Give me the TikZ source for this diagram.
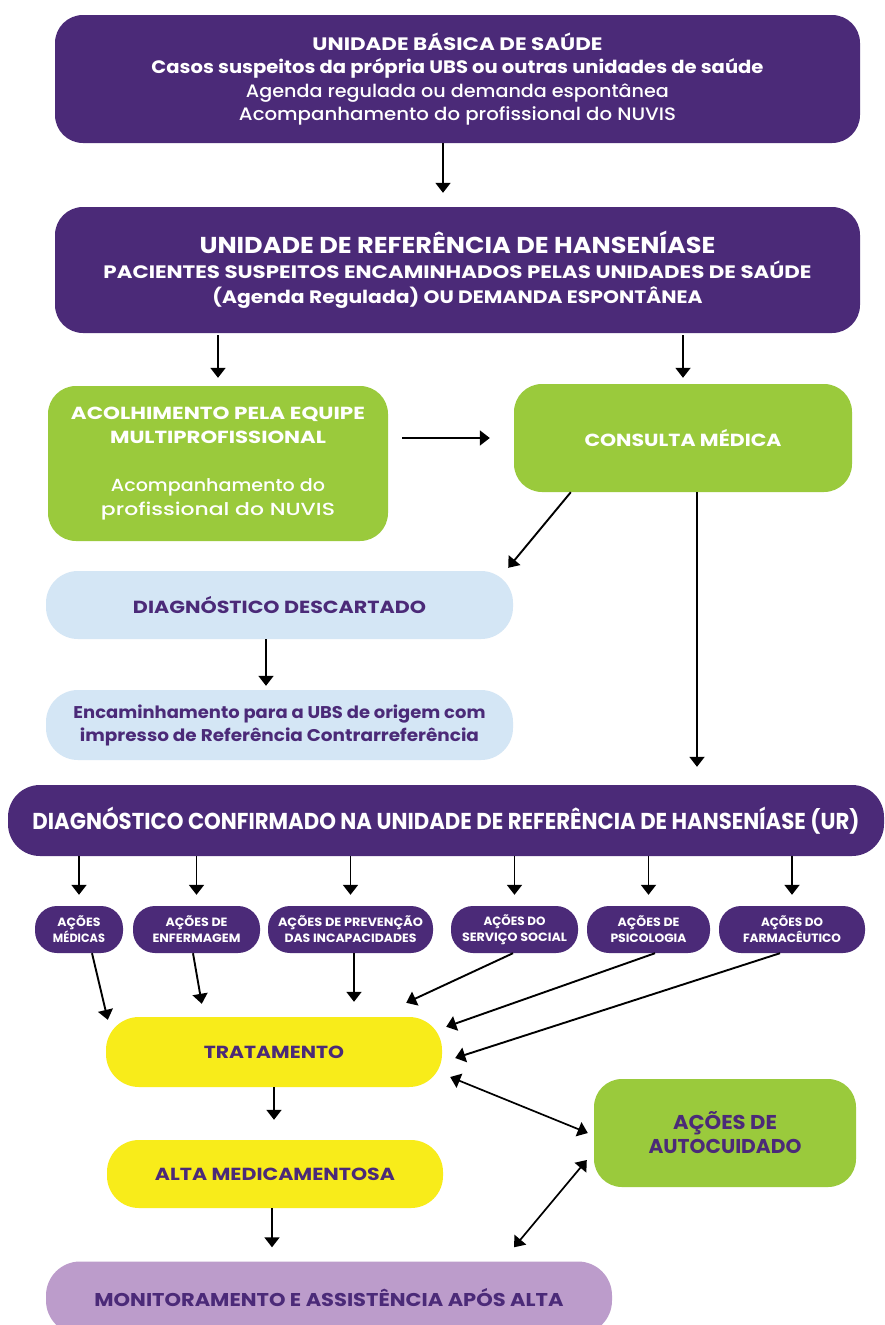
\documentclass[tikz,border=0pt]{standalone}
\usepackage{fontspec}
\usepackage{graphicx}
\setmainfont{Poppins}
\newfontfamily\popmed{Poppins Medium}
\usetikzlibrary{arrows.meta,calc}
\definecolor{dpurple}{RGB}{75,42,120}
\definecolor{lgreen}{RGB}{154,202,60}
\definecolor{lblue}{RGB}{212,230,245}
\definecolor{yel}{RGB}{248,236,26}
\definecolor{lilac}{RGB}{188,156,203}
\newcommand\fitw[2]{\resizebox{#1pt}{\height}{#2}}
\tikzset{
  box/.style={draw=none, rounded corners=28pt, align=center, inner sep=0pt},
  pbox/.style={box, fill=dpurple, text=white},
  gbox/.style={box, fill=lgreen, text=white},
  bbox/.style={box, fill=lblue, text=dpurple},
  ybox/.style={box, fill=yel, text=dpurple},
  sbox/.style={box, fill=dpurple, text=white, rounded corners=22pt, minimum height=47pt,
     font=\bfseries\fontsize{12}{16}\selectfont},
  arr/.style={-{Triangle[length=10pt,width=15pt]}, line width=1.9pt, black},
  darr/.style={{Triangle[length=10pt,width=15pt]}-{Triangle[length=10pt,width=15pt]}, line width=1.7pt, black},
}
\begin{document}
\begin{tikzpicture}[x=1pt,y=-1pt]
\useasboundingbox (0,0) rectangle (884,1325);
\fill[white] (0,0) rectangle (884,1325);

\node[pbox, minimum width=805pt, minimum height=128pt, font=\fontsize{18}{23.5}\selectfont] (ubs) at (457.5,79)
 {\fitw{290}{\bfseries UNIDADE BÁSICA DE SAÚDE}\\
  \fitw{612}{\bfseries Casos suspeitos da própria UBS ou outras unidades de saúde}\\
  \fitw{423}{\popmed Agenda regulada ou demanda espontânea}\\
  \fitw{437}{\popmed Acompanhamento do profissional do NUVIS}};

\node[pbox, minimum width=805pt, minimum height=126pt, font=\bfseries\fontsize{18}{25}\selectfont] (ref) at (457.5,270)
 {\fitw{516}{\fontsize{23}{25}\selectfont UNIDADE DE REFERÊNCIA DE HANSENÍASE}\\
  \fitw{708}{PACIENTES SUSPEITOS ENCAMINHADOS PELAS UNIDADES DE SAÚDE}\\
  \fitw{490}{(Agenda Regulada) OU DEMANDA ESPONTÂNEA}};

\node[gbox, minimum width=340pt, minimum height=155pt, font=\fontsize{17.5}{24}\selectfont] (acol) at (218,463.5)
 {\fitw{294}{\bfseries ACOLHIMENTO PELA EQUIPE}\\
  \fitw{216}{\bfseries MULTIPROFISSIONAL}\\[24pt]
  \fitw{214}{\popmed Acompanhamento do}\\
  \fitw{234}{\popmed profissional do NUVIS}};

\node[gbox, minimum width=338pt, minimum height=108pt, font=\bfseries\fontsize{17.5}{24}\selectfont] (cons) at (683,438)
 {\fitw{197}{CONSULTA MÉDICA}};

\node[bbox, rounded corners=32pt, minimum width=467pt, minimum height=68pt, font=\bfseries\fontsize{17.5}{24}\selectfont] (desc) at (279.5,605)
 {\fitw{293}{DIAGNÓSTICO DESCARTADO}};

\node[bbox, rounded corners=32pt, minimum width=467pt, minimum height=70pt, font=\bfseries\fontsize{17}{23}\selectfont] (enc) at (279.5,725)
 {\fitw{412}{Encaminhamento para a UBS de origem com}\\
  \fitw{399}{impresso de Referência Contrarreferência}};

\node[pbox, rounded corners=32pt, minimum width=876pt, minimum height=71pt, font=\bfseries\fontsize{23}{26}\selectfont] (conf) at (446,820.5)
 {\fitw{827}{DIAGNÓSTICO CONFIRMADO NA UNIDADE DE REFERÊNCIA DE HANSENÍASE (UR)}};

\node[sbox, minimum width=88pt] (med) at (79,929.5) {\fitw{43}{AÇÕES}\\\fitw{52}{MÉDICAS}};
\node[sbox, minimum width=127pt] (enf) at (196.5,929.5) {\fitw{62}{AÇÕES DE}\\\fitw{88}{ENFERMAGEM}};
\node[sbox, minimum width=165pt] (prev) at (350.5,929.5) {\fitw{145}{AÇÕES DE PREVENÇÃO}\\\fitw{132}{DAS INCAPACIDADES}};
\node[sbox, minimum width=127pt] (soc) at (514.5,929.5) {\fitw{62}{AÇÕES DO}\\\fitw{105}{SERVIÇO SOCIAL}};
\node[sbox, minimum width=123pt] (psi) at (648.5,929.5) {\fitw{62}{AÇÕES DE}\\\fitw{76}{PSICOLOGIA}};
\node[sbox, minimum width=146pt] (far) at (792,929.5) {\fitw{62}{AÇÕES DO}\\\fitw{98}{FARMACÊUTICO}};

\node[ybox, rounded corners=33pt, minimum width=336pt, minimum height=70pt, font=\bfseries\fontsize{17.5}{24}\selectfont] (trat) at (274,1052)
 {\fitw{140}{TRATAMENTO}};
\node[ybox, rounded corners=32pt, minimum width=336pt, minimum height=68pt, font=\bfseries\fontsize{17.5}{24}\selectfont] (alta) at (275,1174)
 {\fitw{240}{ALTA MEDICAMENTOSA}};
\node[box, fill=lgreen, text=dpurple, minimum width=262pt, minimum height=108pt, font=\bfseries\fontsize{20}{24}\selectfont] (auto) at (725,1133)
 {\fitw{104}{AÇÕES DE}\\\fitw{153}{AUTOCUIDADO}};
\node[box, fill=lilac, text=dpurple, rounded corners=34pt, minimum width=566pt, minimum height=73pt, font=\bfseries\fontsize{18.5}{24}\selectfont] (mon) at (329,1298)
 {\fitw{469}{MONITORAMENTO E ASSISTÊNCIA APÓS ALTA}};

% arrows
\draw[arr, shorten >=14pt] ($(ubs.south)+(-14.5,0)$) -- ($(ref.north)+(-14.5,0)$);
\draw[arr, shorten <=2pt, shorten >=8pt] (ref.south -| acol.north) -- (acol.north);
\draw[arr, shorten <=2pt, shorten >=6pt] (ref.south -| cons.north) -- (cons.north);
\draw[arr] ($(acol.east)+(14,-25.5)$) -- ($(cons.west)+(-24,0)$);
\draw[arr] ($(cons.south west)+(57,0)$) -- ($(desc.north east)+(-5,-3)$);
\path ($(cons.south)+(14,0)$) coordinate (c1);
\draw[arr, shorten >=18pt] (c1) -- (c1 |- conf.north);
\draw[arr, shorten >=4pt] ($(desc.south)+(-13.5,0)$) -- ($(enc.north)+(-13.5,0)$);
\foreach \n in {med,enf,prev,soc,psi,far}{
  \draw[arr, shorten >=11pt] (\n.north |- conf.south) -- (\n.north);
}
\draw[arr] ($(med.south)+(13,0)$) -- ($(trat.north west)+(2,3)$);
\draw[arr] ($(enf.south)+(-3.5,0)$) -- ($(trat.north west)+(96,-13)$);
\draw[arr] ($(prev.south)+(3.5,0)$) -- ($(trat.north)+(80,-15)$);
\draw[arr] ($(soc.south)+(-1.5,0)$) -- ($(trat.north east)+(-36,-14)$);
\draw[arr] ($(psi.south)+(6.5,0)$) -- ($(trat.north east)+(4,10)$);
\draw[arr] ($(far.south)+(-12,0)$) -- ($(trat.east)+(13,6)$);
\draw[arr, shorten >=20pt] (trat.south) -- (trat.south |- alta.north);
\draw[darr] ($(trat.east)+(8,25)$) -- ($(auto.west)+(-6,0)$);
\draw[arr, shorten >=14pt] ($(alta.south)+(-3,0)$) -- ($(alta.south |- mon.north)+(-3,0)$);
\draw[darr] ($(auto.west)+(-7,27)$) -- ($(mon.north)+(185,-14)$);
\end{tikzpicture}
\end{document}
